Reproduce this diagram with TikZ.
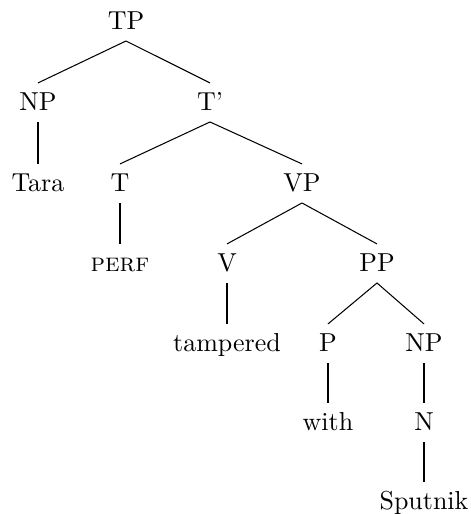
\documentclass[tikz,border=0pt]{standalone}
\begin{document}
\begin{tikzpicture}[x=0.385pt,y=-0.385pt,
    cat/.style={anchor=base,text height=1.6ex,text depth=.25ex,inner sep=3.33pt}]
        \useasboundingbox (0,0) rectangle (471,514);

        % Categorias
        \node[cat] (tp) at (126,29) {TP};
        \node[cat] (np1) at (38,110) {NP};
        \node[cat] (tbar) at (210,110) {T'};
        \node[cat] (tara) at (38,191) {Tara};
        \node[cat] (t) at (120,191) {T};
        \node[cat] (vp) at (302,191) {VP};
        \node[cat] (perf) at (120,271) {\textsc{perf}};
        \node[cat] (v) at (227,271) {V};
        \node[cat] (pp) at (377,271) {PP};
        \node[cat] (tampered) at (227,351) {tampered};
        \node[cat] (p) at (328,351) {P};
        \node[cat] (np2) at (424,351) {NP};
        \node[cat] (with) at (328,430) {with};
        \node[cat] (n) at (424,430) {N};
        \node[cat] (sputnik) at (424,509) {Sputnik};

        % Ramas
        \draw (tp.south) -- (np1.north);
        \draw (tp.south) -- (tbar.north);
        \draw (np1.south) -- (tara.north);
        \draw (tbar.south) -- (t.north);
        \draw (tbar.south) -- (vp.north);
        \draw (t.south) -- (perf.north);
        \draw (vp.south) -- (v.north);
        \draw (vp.south) -- (pp.north);
        \draw (v.south) -- (tampered.north);
        \draw (pp.south) -- (p.north);
        \draw (pp.south) -- (np2.north);
        \draw (p.south) -- (with.north);
        \draw (np2.south) -- (n.north);
        \draw (n.south) -- (sputnik.north);
    \end{tikzpicture}
\end{document}
